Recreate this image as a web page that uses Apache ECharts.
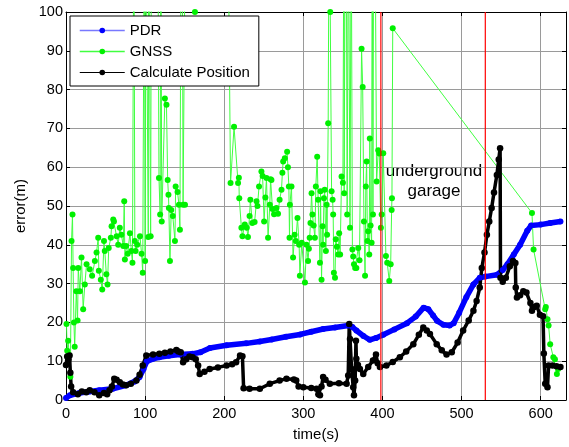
<!DOCTYPE html>
<html>
<head>
<meta charset="utf-8">
<script src="https://cdn.jsdelivr.net/npm/echarts@6/dist/echarts.min.js"></script>
<style>
  html, body { margin: 0; padding: 0; background: #fff; }
  #chart { width: 569px; height: 447px; }
</style>
</head>
<body>
<div id="chart"></div>
<script>
// PDR error (blue)
const pdrT = [0, 5, 17, 30, 42, 59, 76, 87, 93, 98, 102, 110, 118, 130, 144, 160, 170, 182, 203, 228,
  245, 260, 278, 296, 310, 325, 340, 357, 362, 367, 376, 384, 392, 401, 415, 431, 442, 452, 458, 464,
  469, 477, 485, 490, 497, 506, 515, 523, 530, 545, 552, 558, 566, 574, 583, 588, 600, 612, 625];
const pdrV = [0.5, 1.2, 1.8, 2.2, 2.5, 2.9, 3.8, 4.8, 5.9, 8, 9.9, 10.6, 11, 11.4, 11.7, 11.9, 12.3, 13.4, 14.1, 14.6,
  15.1, 15.6, 16.3, 16.9, 17.6, 18.3, 18.7, 19.2, 18.8, 17.9, 16.5, 15.5, 16, 16.8, 18.2, 19.8, 21.5, 23.8, 23.4, 21.8,
  20.4, 19.4, 19.2, 19.8, 22.5, 26.5, 29.8, 31.5, 31.8, 32.3, 33.5, 35, 37.5, 40, 43.6, 45, 45.2, 45.6, 46];

// GNSS error (green), values above 100 are off the chart
const gnssT = [0.6, 1.5, 2.7, 4, 5.5, 7, 8.2, 9, 10, 11, 13, 14.6, 15.5, 17.5, 19.6, 21.7, 23.8, 26, 30, 33,
  36.5, 38.6, 40.7, 41.5, 44, 45.8, 48, 49, 51, 52.5, 54, 56.7, 57.6, 59.7, 60.6, 64, 66, 68, 70, 72.4,
  73.6, 74.4, 76, 78, 80.8, 82.6, 84, 85.8, 87, 88, 90, 93.5, 95.5, 97, 99, 100, 101, 104, 104.5, 107,
  108, 116, 117.5, 119, 120, 121, 125, 127, 128.5, 129.5, 130, 131.4, 133, 135, 137.7, 138.6, 141, 142.8, 144, 145.6,
  147, 148, 150.4, 151, 160, 163, 165, 180, 190, 198, 205, 208, 212.4, 217.5, 218.5, 219, 221.7, 223, 226, 228.5,
  230, 232, 233, 235.5, 238.4, 240.8, 242, 244, 247, 248.5, 250.4, 252, 253.4, 255.4, 257.6, 258.6, 259.7, 261, 263, 266,
  268, 270, 272.4, 273.5, 274.5, 276.6, 279.5, 280.5, 281.7, 282.5, 283, 285, 287, 289, 290.5, 292.6, 294.7, 295.6, 298, 302,
  304, 306, 307, 308, 309, 310.4, 311.5, 313, 314.6, 315.8, 317.5, 318.7, 321, 321.7, 323, 324.3, 325, 326, 327, 328.5,
  329.4, 330, 331.4, 332.6, 334, 335.7, 337, 337.7, 338.6, 340, 341, 342.5, 344, 345.3, 346.5, 348.3, 350, 351.5, 351.6, 353,
  354, 355.4, 357, 359, 360.5, 362, 363, 364, 365.5, 367, 369.4, 371, 373.6, 375, 376.6, 378, 379, 380, 381, 382,
  383.3, 384, 385, 386.3, 387, 388, 389, 390.5, 392.6, 394.7, 396, 398, 399, 401, 404.4, 406, 408.6, 410.4, 411.6, 412,
  413, 589, 591, 605.7, 606.5, 608.6, 610, 612, 616, 618, 620.5, 622];
const gnssV = [19.6, 12.7, 15.3, 11.6, 6, 41, 47.8, 34, 20, 13.7, 28, 20.5, 34, 28, 36.7, 23.4, 29.8, 35, 33.7, 32,
  35.8, 38, 41.8, 33.3, 31, 28.5, 41, 38.4, 32.4, 29.8, 39.2, 41.8, 44.8, 46.5, 46, 42.2, 40, 44.4, 42.6, 39.7,
  51.2, 36.2, 39.7, 37.7, 43, 38.4, 35.4, 130, 41, 38.4, 40, 42.2, 37.7, 32.8, 130, 35.8, 130, 42, 130, 42.2,
  130, 130, 57.2, 47.8, 130, 46, 77.7, 76.1, 56.7, 52.9, 49.5, 35.8, 49, 47.4, 41, 55, 53.6, 50.3, 43.9, 130,
  120, 50.3, 50.3, 130, 140, 100, 150, 120, 140, 130, 120, 55.9, 70.4, 55.9, 57.3, 52, 44.4, 42.2, 45.2, 44.4,
  42, 47.4, 51.6, 45.6, 45.9, 51.2, 50, 55, 58.9, 57.7, 46, 52.2, 57.2, 41.8, 50.3, 56.9, 56.7, 49.2, 47.9, 49.5,
  48, 51.6, 54.2, 58.6, 61.5, 62.3, 64, 60, 55, 41.8, 50.3, 55, 36.7, 42.6, 41, 46.9, 40, 32, 40.5, 30.3,
  40, 35.8, 39, 41.8, 45.6, 53.3, 47.8, 45, 41.8, 55, 62.7, 51.6, 35.4, 53.8, 31, 44.8, 40, 52, 54.2, 38.4,
  50.3, 42.6, 71.3, 130, 100, 53.8, 51.6, 47.8, 32.8, 31.5, 41.4, 39.5, 37.5, 43, 37.5, 57.6, 56, 140, 53.3, 130,
  140, 47.8, 130, 44.4, 130, 38.8, 37, 35, 34, 34, 39.2, 36, 90.5, 80.7, 46, 32, 55, 61.5, 41, 43.5,
  37.5, 67.4, 45, 40.5, 130, 47.8, 140, 130, 56.3, 64.4, 63.5, 44.4, 47.8, 63.6, 37.1, 35.4, 30.7, 35, 49, 52,
  95.8, 48.2, 38.8, 23.4, 24, 20.8, 19.2, 14.4, 11, 10.5, 6.7, 8];

// calculated position error (black)
const calT = [0, 1.5, 3, 4.5, 5.5, 6.5, 9, 15, 20, 25.6, 30, 36, 42, 48, 52, 55, 58, 61, 64, 68,
  72, 76, 82, 89, 93, 97, 101.5, 110, 118, 125, 132, 139.5, 142, 145, 148, 152, 156, 160, 164, 167,
  169, 175, 181.6, 192, 203, 210, 215, 220, 223, 224.5, 232, 245, 257.6, 270, 278.7, 288, 291, 294, 300, 310,
  316.7, 319, 321, 323, 325, 328, 333.5, 345, 354.7, 356.7, 358, 359, 361, 363, 364, 365.5, 366.5, 367, 369, 371.5,
  375.7, 382, 388, 391.8, 394, 396.8, 405, 413, 422, 430, 439, 446, 451.6, 456, 460, 468.6, 475, 481, 487.6, 495,
  502, 509, 515, 519, 523, 525.6, 529, 532, 535, 538, 541, 544.6, 547, 548.7, 549.2, 552, 556, 561, 565, 568,
  568.5, 570, 574, 578, 582, 587, 589, 592, 595, 599, 603, 604, 605.7, 608.6, 610, 615, 620, 625];
const calV = [9, 11.2, 10.5, 11.5, 7, 3.5, 2, 1.5, 2.2, 2, 2.5, 2, 1.2, 1.8, 1.5, 2.5, 3.5, 5.5, 5.2, 4.6,
  4, 3.8, 4.2, 5, 6.5, 8.9, 11.5, 11.7, 11.9, 12.2, 12.5, 12.9, 12.5, 12.3, 9.7, 10.5, 11.2, 11, 10.5, 8.9,
  6.7, 7.3, 8, 8.4, 8.9, 9.2, 9.7, 11.5, 11.3, 3, 2.9, 2.9, 4.2, 5, 5.5, 5.3, 5, 3.5, 3.3, 3.1,
  2.9, 1.5, 1.2, 3.5, 5.9, 5.2, 4.2, 4.3, 4.2, 6.3, 19.6, 15.7, 8, 3.3, 1.2, 5, 15.3, 10.6, 9, 8,
  6.7, 8.5, 10.2, 11.7, 9.5, 8.5, 8.9, 9.8, 11, 12.5, 14.4, 16.8, 18.7, 17.9, 17, 14.4, 12.8, 11.7, 12.3, 14.8,
  17.9, 20.5, 23, 25.5, 29, 34, 38, 42.6, 46, 49.5, 53.5, 58, 62, 64.9, 31.5, 30.5, 31.5, 34.5, 35.8, 35.3,
  29, 26.4, 27, 28, 27.7, 25, 23, 24, 24.3, 22, 21.6, 12, 4.2, 3.3, 8.9, 8.9, 8.7, 8.5];

// vertical markers (start / end of the underground garage)
const garageLines = [398, 530];
const xTicks = [0, 100, 200, 300, 400, 500, 600];

const font = 'Liberation Sans, Arial, Helvetica, sans-serif';
const pair = (t, v) => t.map((x, i) => [x, v[i]]);

const chart = echarts.init(document.getElementById('chart'));

const boxAxis = {
  axisLine: { onZero: false, lineStyle: { color: '#000', width: 1 } },
  axisTick: { inside: true, length: 4, lineStyle: { color: '#000' } }
};

// red vertical lines, one small series each (kept out of the legend)
const markerSeries = garageLines.map(x => ({
  name: 'garage' + x, type: 'line', data: [[x, 0], [x, 100]],
  showSymbol: false, symbol: 'none', silent: true, z: 5,
  lineStyle: { color: '#ff0000', width: 1.2 },
  itemStyle: { color: '#ff0000' }
}));

chart.setOption({
  animation: false,
  backgroundColor: '#fff',
  grid: { left: 66, right: 3, top: 12, bottom: 44 },
  legend: {
    orient: 'vertical',
    left: 70,
    top: 16,
    itemWidth: 45,
    itemHeight: 7,
    itemGap: 6,
    padding: [7, 9, 6, 9],
    borderColor: '#000',
    borderWidth: 1,
    borderRadius: 0,
    backgroundColor: '#fff',
    textStyle: { fontSize: 15, color: '#000', fontFamily: font },
    data: [
      { name: 'PDR', lineStyle: { width: 1.5, color: '#7878ff' } },
      { name: 'GNSS', lineStyle: { width: 1.5 } },
      { name: 'Calculate Position', lineStyle: { width: 1 } }
    ]
  },
  xAxis: [
    Object.assign({
      type: 'value', min: 0, max: 632, interval: 100, position: 'bottom',
      name: 'time(s)', nameLocation: 'middle', nameGap: 27,
      nameTextStyle: { fontSize: 15, color: '#000', fontFamily: font },
      axisLabel: {
        color: '#000', fontSize: 14.5, margin: 6, fontFamily: font,
        formatter: v => xTicks.includes(v) ? String(v) : ''
      },
      splitLine: { show: true, lineStyle: { color: '#9a9a9a', width: 1 } }
    }, boxAxis),
    Object.assign({
      type: 'value', min: 0, max: 632, interval: 100, position: 'top',
      axisLabel: { show: false }, splitLine: { show: false }
    }, boxAxis)
  ],
  yAxis: [
    Object.assign({
      type: 'value', min: 0, max: 100, interval: 10, position: 'left',
      name: 'error(m)', nameLocation: 'middle', nameGap: 36,
      nameTextStyle: { fontSize: 15, color: '#000', fontFamily: font },
      axisLabel: { color: '#000', fontSize: 14.5, margin: 3, fontFamily: font },
      splitLine: { show: true, lineStyle: { color: '#9a9a9a', width: 1 } }
    }, boxAxis),
    Object.assign({
      type: 'value', min: 0, max: 100, interval: 10, position: 'right',
      axisLabel: { show: false }, splitLine: { show: false }
    }, boxAxis)
  ],
  series: [
    {
      name: 'PDR', type: 'line', data: pair(pdrT, pdrV),
      symbol: 'circle', symbolSize: 6,
      lineStyle: { color: '#0000ff', width: 5.5 },
      itemStyle: { color: '#0000ff' }
    },
    {
      name: 'GNSS', type: 'line', data: pair(gnssT, gnssV),
      symbol: 'circle', symbolSize: 6,
      lineStyle: { color: '#40ff40', width: 1 },
      itemStyle: { color: '#00f000' }
    },
    {
      name: 'Calculate Position', type: 'line', data: pair(calT, calV),
      symbol: 'circle', symbolSize: 6.5,
      lineStyle: { color: '#000', width: 3.5 },
      itemStyle: { color: '#000' }
    }
  ].concat(markerSeries),
  graphic: [
    { type: 'text', x: 434, y: 171,
      style: { text: 'underground', fontSize: 17, fontFamily: font, fill: '#000', textAlign: 'center', textVerticalAlign: 'middle' } },
    { type: 'text', x: 434, y: 191,
      style: { text: 'garage', fontSize: 17, fontFamily: font, fill: '#000', textAlign: 'center', textVerticalAlign: 'middle' } }
  ]
});
</script>
</body>
</html>
